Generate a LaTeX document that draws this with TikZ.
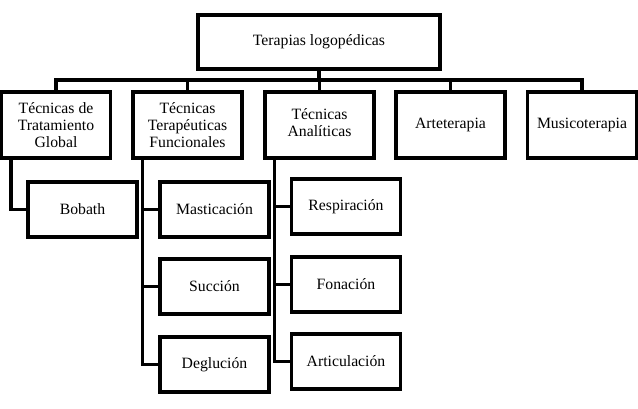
\documentclass[tikz,border=0pt]{standalone}
\usepackage{fontspec}
\setmainfont{Liberation Serif}
\begin{document}
\begin{tikzpicture}[x=0.75pt,y=-0.75pt,
  box/.style={draw, line width=2.6pt, align=center, inner sep=0pt,
    font=\fontsize{11.8}{12.8}\selectfont},
  lvl/.style={box, minimum width=81.75pt, minimum height=49.5pt},
  leaf/.style={box, minimum width=81.75pt, minimum height=41.25pt},
  conn/.style={line width=2.6pt, line cap=rect}]
\useasboundingbox (0,0) rectangle (638,409);
\node[box, minimum width=181.5pt, minimum height=40.5pt] (top) at (319,42) {Terapias logopédicas};
\node[lvl] (b1) at (56,125) {Técnicas de\\Tratamiento\\Global};
\node[lvl] (b2) at (187.5,125) {Técnicas\\Terapéuticas\\Funcionales};
\node[lvl] (b3) at (319.5,125) {\raisebox{3pt}{\begin{tabular}{@{}c@{}}Técnicas\\Analíticas\end{tabular}}};
\node[lvl] (b4) at (450.5,125) {Arteterapia};
\node[lvl] (b5) at (582,125) {Musicoterapia};
\node[leaf] (bob) at (82.5,209.5) {Bobath};
\node[leaf] (mas) at (214.5,209.5) {Masticación};
\node[leaf] (suc) at (214.5,286.5) {Succión};
\node[leaf] (deg) at (214.5,364.5) {Deglución};
\node[leaf] (res) at (346,206.5) {Respiración};
\node[leaf] (fon) at (346,284.5) {Fonación};
\node[leaf] (art) at (346,361.5) {Articulación};
\coordinate (bus) at (319,80);
\draw[conn] (top.south) -- (bus);
\draw[conn] (bus) -| (b1.north);
\draw[conn] (bus) -| (b2.north);
\draw[conn] (bus) -| (b3.north);
\draw[conn] (bus) -| (b4.north);
\draw[conn] (bus) -| (b5.north);
\draw[conn] ([xshift=8.25pt]b1.south west) |- (bob.west);
\draw[conn] ([xshift=8.25pt]b2.south west) |- (deg.west);
\draw[conn] ([xshift=8.25pt]b2.south west |- mas.west) -- (mas.west);
\draw[conn] ([xshift=8.25pt]b2.south west |- suc.west) -- (suc.west);
\draw[conn] ([xshift=8.25pt]b3.south west) |- (art.west);
\draw[conn] ([xshift=8.25pt]b3.south west |- res.west) -- (res.west);
\draw[conn] ([xshift=8.25pt]b3.south west |- fon.west) -- (fon.west);
\end{tikzpicture}
\end{document}
